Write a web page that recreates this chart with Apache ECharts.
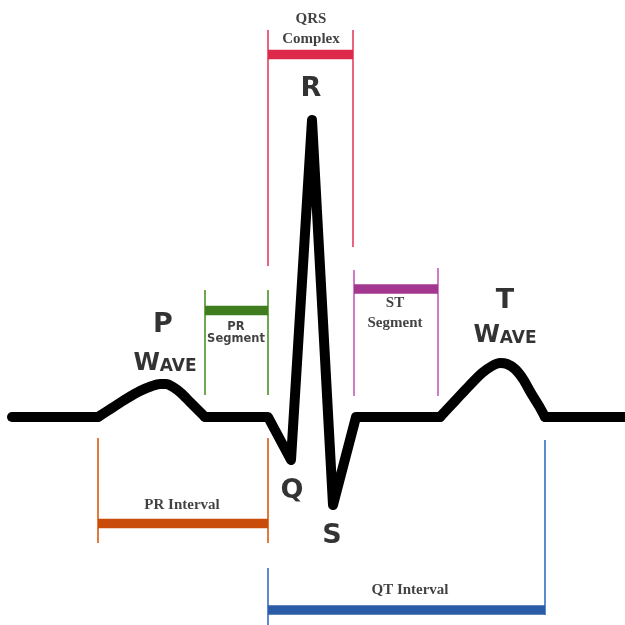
<!DOCTYPE html>
<html><head><meta charset="utf-8">
<script src="https://cdn.jsdelivr.net/npm/echarts@6/dist/echarts.min.js"></script>
<style>html,body{margin:0;padding:0;background:#fff}#c{width:625px;height:625px}</style>
</head><body><div id="c"></div>
<script>
// ECG trace pieces (x: time units, y: amplitude units, inverted axis)
const baseX = [12,98];            const baseY = [417,417];
const pWaveX = [98,112,126,140,152,160,166,173,181,190,198,205];
const pWaveY = [417,408,399,391,386,384,384,387,393,402,410,417];
const qrsX = [205,268,291,312,333,356,440];
const qrsY = [417,417,460,120,505,417,417];
const tWaveX = [440,455,470,482,492,500,507,515,523,531,539,545];
const tWaveY = [417,401,385,373,366,363,364,369,379,393,406,417];
const tailX = [545,625];          const tailY = [417,417];

// Brackets: name, start, end, bar level, tick top, tick bottom (per side)
const bracketNames = ['QRS','PRseg','STseg','PRint','QTint'];
const bracketStart = [268,205,354,98,268];
const bracketEnd   = [353,268,438,268,545];
const bracketLevel = [54.5,310.5,289,523.5,610];
const tickLeftTop  = [30,290,270,438,568];
const tickLeftBot  = [266,395,396,543,625];
const tickRightTop = [30,290,268,438,440];
const tickRightBot = [247,395,396,543,615];

// Text labels
const labelTexts = ['QRS','Complex','PR','Segment','ST','Segment','PR Interval','QT Interval'];
const labelX = [311,311,236,236,395,395,182,410];
const labelY = [19,39,327,339,303,323,505,590];
const letterTexts = ['R','P','Q','S','T'];
const letterX = [311,163,292,332,505];
const letterY = [89,325,491,536,301];
const waveTextX = [165,505];
const waveTextY = [364,336];

const barColors  = ['#dd2a4b','#3f7d1f','#a3378f','#c94c0a','#2b5ca8'];
const tickColors = ['#ea6480','#6ea850','#cf7dc6','#e07a3e','#5d8acb'];
const labelFonts = ['serif','serif','sans','sans','serif','serif','serif','serif'];

const series = [];
const trace = (xs, ys, smooth) => series.push({
  type:'line', data: xs.map((x,i)=>[x,ys[i]]), showSymbol:false, silent:true, smooth,
  lineStyle:{color:'#000', width:10, cap:'round', join:'round'}, z:5
});
trace(baseX, baseY, false);
trace(pWaveX, pWaveY, 0.3);
trace(qrsX, qrsY, false);
trace(tWaveX, tWaveY, 0.3);
trace(tailX, tailY, false);

bracketNames.forEach((n,i)=>{
  series.push({type:'line', data:[[bracketStart[i],bracketLevel[i]],[bracketEnd[i],bracketLevel[i]]], showSymbol:false, silent:true,
    lineStyle:{color:barColors[i], width:9.5, cap:'butt'}, z:3});
  series.push({type:'line', data:[[bracketStart[i],tickLeftTop[i]],[bracketStart[i],tickLeftBot[i]]], showSymbol:false, silent:true,
    lineStyle:{color:tickColors[i], width:2}, z:2});
  series.push({type:'line', data:[[bracketEnd[i],tickRightTop[i]],[bracketEnd[i],tickRightBot[i]]], showSymbol:false, silent:true,
    lineStyle:{color:tickColors[i], width:2}, z:2});
});
series.push({
  type:'scatter', symbolSize:0, silent:true, z:10,
  data: labelTexts.map((t,i)=>({value:[labelX[i],labelY[i]], name:t,
    label:{fontFamily: labelFonts[i]==='serif' ? 'Liberation Serif' : 'DejaVu Sans',
           fontSize: labelFonts[i]==='serif' ? 15 : 11.5}})),
  label:{show:true, position:'inside', formatter:p=>p.name, color:'#111', fontWeight:'bold'}
});
series.push({
  type:'scatter', symbolSize:0, silent:true, z:10,
  data: letterTexts.map((t,i)=>({value:[letterX[i],letterY[i]], name:t})),
  label:{show:true, position:'inside', formatter:p=>p.name, color:'#000', fontWeight:'bold',
    fontFamily:'DejaVu Sans', fontSize:27}
});
series.push({
  type:'scatter', symbolSize:0, silent:true, z:10,
  data: waveTextX.map((x,i)=>({value:[x,waveTextY[i]], name:'WAVE'})),
  label:{show:true, position:'inside', formatter:'{b|W}{s|AVE}', color:'#000',
    rich:{b:{fontFamily:'DejaVu Sans', fontWeight:'bold', fontSize:24, color:'#000', verticalAlign:'bottom'},
          s:{fontFamily:'DejaVu Sans', fontWeight:'bold', fontSize:17, color:'#000', verticalAlign:'bottom', padding:[0,0,1,0]}}}
});

const chart = echarts.init(document.getElementById('c'), null, {renderer:'canvas'});
chart.setOption({
  animation:false,
  backgroundColor:'#fff',
  grid:{left:0,right:0,top:0,bottom:0},
  xAxis:{type:'value', min:0, max:625, show:false},
  yAxis:{type:'value', min:0, max:625, inverse:true, show:false},
  series
});
</script></body></html>
